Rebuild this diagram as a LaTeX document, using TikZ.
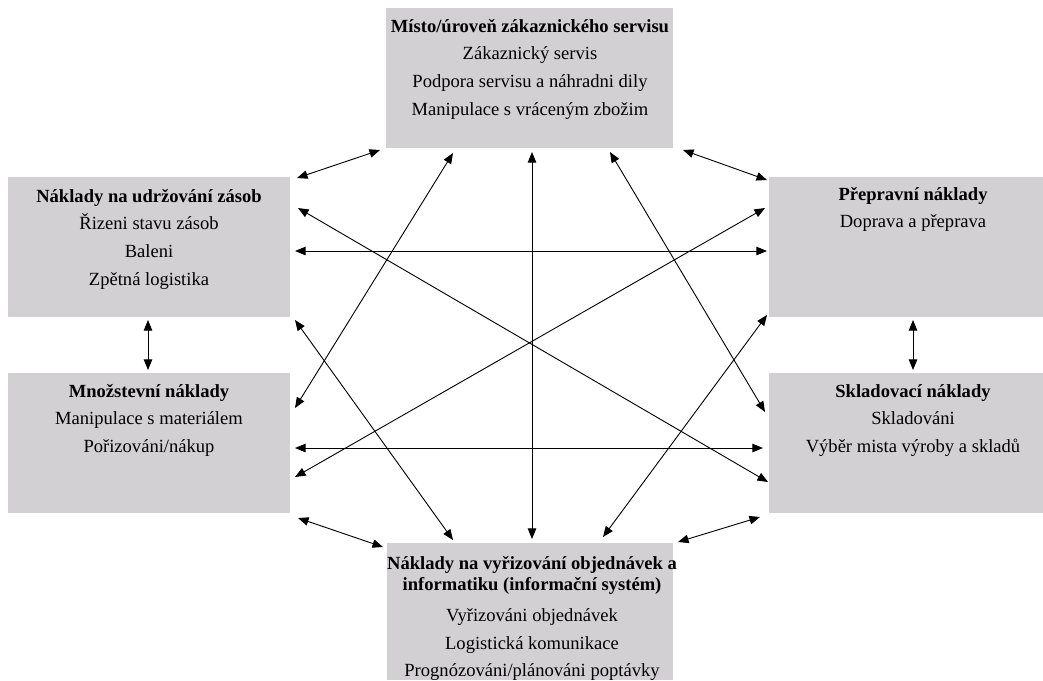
\documentclass[tikz,border=0pt]{standalone}
\usepackage{fontspec}
\setmainfont{Liberation Serif}
\usetikzlibrary{arrows.meta}
\definecolor{boxgray}{RGB}{211, 208, 211}

\begin{document}
\begin{tikzpicture}[x=0.025cm, y=-0.025cm,
        box/.style={fill=boxgray, inner sep=0pt, anchor=north west, minimum height=3.5cm},
        txt/.style={anchor=north, align=center, inner sep=0pt, font=\fontsize{13.2}{19.6}\selectfont},
        link/.style={{Triangle[length=7.5pt,width=6pt]}-{Triangle[length=7.5pt,width=6pt]}, line width=0.65pt}]
        \useasboundingbox (0,0) rectangle (1043,680);

        % Draw the six cost boxes
        \node[box, minimum width=7.175cm] (servis) at (386,8) {};
        \node[box, minimum width=7.05cm] (zasoby) at (8,177) {};
        \node[box, minimum width=6.85cm] (preprava) at (769,177) {};
        \node[box, minimum width=7.05cm] (mnozstvi) at (8,373) {};
        \node[box, minimum width=6.85cm] (sklad) at (769,373) {};
        \node[box, minimum width=7.15cm, minimum height=3.425cm] (objednavky) at (387,543) {};

        % Texts inside the boxes
        \node[txt] (servis-t) at (530,19) {\textbf{Místo/úroveň zákaznického servisu}\\Zákaznický servis\\Podpora servisu a náhradni dily\\Manipulace s vráceným zbožim};
        \node[txt] (zasoby-t) at (149,189) {\textbf{Náklady na udržování zásob}\\Řizeni stavu zásob\\Baleni\\Zpětná logistika};
        \node[txt] (preprava-t) at (913,187) {\textbf{Přepravní náklady}\\Doprava a přeprava};
        \node[txt] (mnozstvi-t) at (149,384) {\textbf{Množstevní náklady}\\Manipulace s materiálem\\Pořizováni/nákup};
        \node[txt] (sklad-t) at (913,384) {\textbf{Skladovací náklady}\\Skladováni\\Výběr mista výroby a skladů};
        \node[txt] (objednavky-t) at (532,556) {\textbf{Náklady na vyřizování objednávek a}\\[-4.6pt]\textbf{informatiku (informační systém)}\\[2.6pt]Vyřizováni objednávek\\Logistická komunikace\\Prognózováni/plánováni poptávky};

        % Arrow ends next to the boxes
        \coordinate (a1) at (297,178);  \coordinate (a2) at (380,150);
        \coordinate (b1) at (683,150);  \coordinate (b2) at (767,180);
        \coordinate (c1) at (148,320);  \coordinate (c2) at (148,370);
        \coordinate (d1) at (913,320);  \coordinate (d2) at (913,370);
        \coordinate (e1) at (298,518);  \coordinate (e2) at (383,547);
        \coordinate (f1) at (678,542);  \coordinate (f2) at (760,517);
        \coordinate (g1) at (532,152);  \coordinate (g2) at (532,539);
        \coordinate (h1) at (295,251);  \coordinate (h2) at (767,251);
        \coordinate (i1) at (295,448);  \coordinate (i2) at (763,448);
        \coordinate (j1) at (453,153);  \coordinate (j2) at (295,408);
        \coordinate (k1) at (610,152);  \coordinate (k2) at (765,412);
        \coordinate (l1) at (298,208);  \coordinate (l2) at (768,482);
        \coordinate (m1) at (765,208);  \coordinate (m2) at (295,477);
        \coordinate (n1) at (295,320);  \coordinate (n2) at (453,540);
        \coordinate (o1) at (767,315);  \coordinate (o2) at (603,537);

        % Draw the links between all boxes
        \foreach \s in {a,b,c,d,e,f,g,h,i,j,k,l,m,n,o}
            \draw[link] (\s1) -- (\s2);
    \end{tikzpicture}
\end{document}
